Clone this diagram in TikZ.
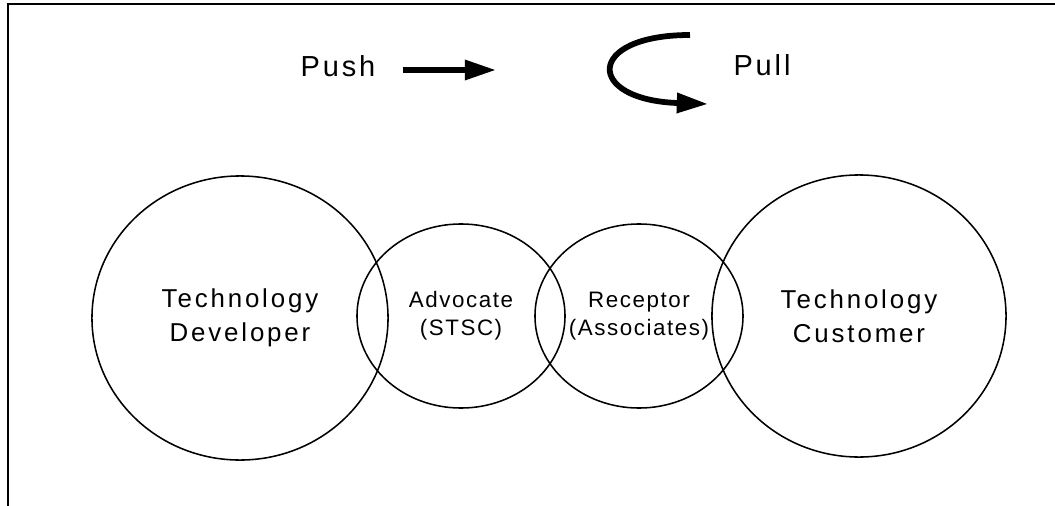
\documentclass[tikz,border=0pt]{standalone}
\usepackage{fontspec}
\setmainfont{Liberation Sans}
\usetikzlibrary{shapes.geometric, arrows.meta}

\tikzstyle{bigcircle} = [ellipse, draw=black, line width=1.1pt, inner sep=0pt,
    align=center, font=\fontsize{18.4}{24.2}\selectfont\addfontfeature{LetterSpace=11}]
\tikzstyle{smallcircle} = [ellipse, draw=black, line width=1.1pt, inner sep=0pt,
    minimum width=5.2cm, minimum height=4.6cm, align=center,
    font=\fontsize{15.9}{19.9}\selectfont\addfontfeature{LetterSpace=7}]
\tikzstyle{toptext} = [anchor=base, inner sep=0pt,
    font=\fontsize{20.6}{24}\selectfont\addfontfeature{LetterSpace=10}]
\tikzstyle{arrow} = [line width=4.1pt, -{Triangle[length=0.78cm, width=0.48cm]}]

\begin{document}
\begin{tikzpicture}[x=0.025cm, y=-0.025cm]
\useasboundingbox (0,0) rectangle (1055,506);

% Frame
\draw [line width=1.4pt] (8,506) -- (8,4) -- (1055,4);

% Nodes
\node (dev) [bigcircle, minimum width=7.4cm, minimum height=7.1cm] at (240,318) {Technology\\Developer};
\node (adv) [smallcircle] at (461,316) {Advocate\\(STSC)};
\node (rec) [smallcircle] at (639,316) {Receptor\\(Associates)};
\node (cust) [bigcircle, minimum width=7.35cm, minimum height=7.05cm] at (859,316) {Technology\\Customer};

\node (push) [toptext] at (338,76.5) {Push};
\node (pull) [toptext] at (762,75) {Pull};
\coordinate (pushstart) at (403,70);
\coordinate (pushend) at (496,70);
\coordinate (pullstart) at (690,35);
\coordinate (pullend) at (708,104);

% Arrows
\draw [arrow] (pushstart) -- (pushend);
\draw [arrow] (pullstart) .. controls (585,35) and (585,100) .. (pullend);

\end{tikzpicture}
\end{document}
